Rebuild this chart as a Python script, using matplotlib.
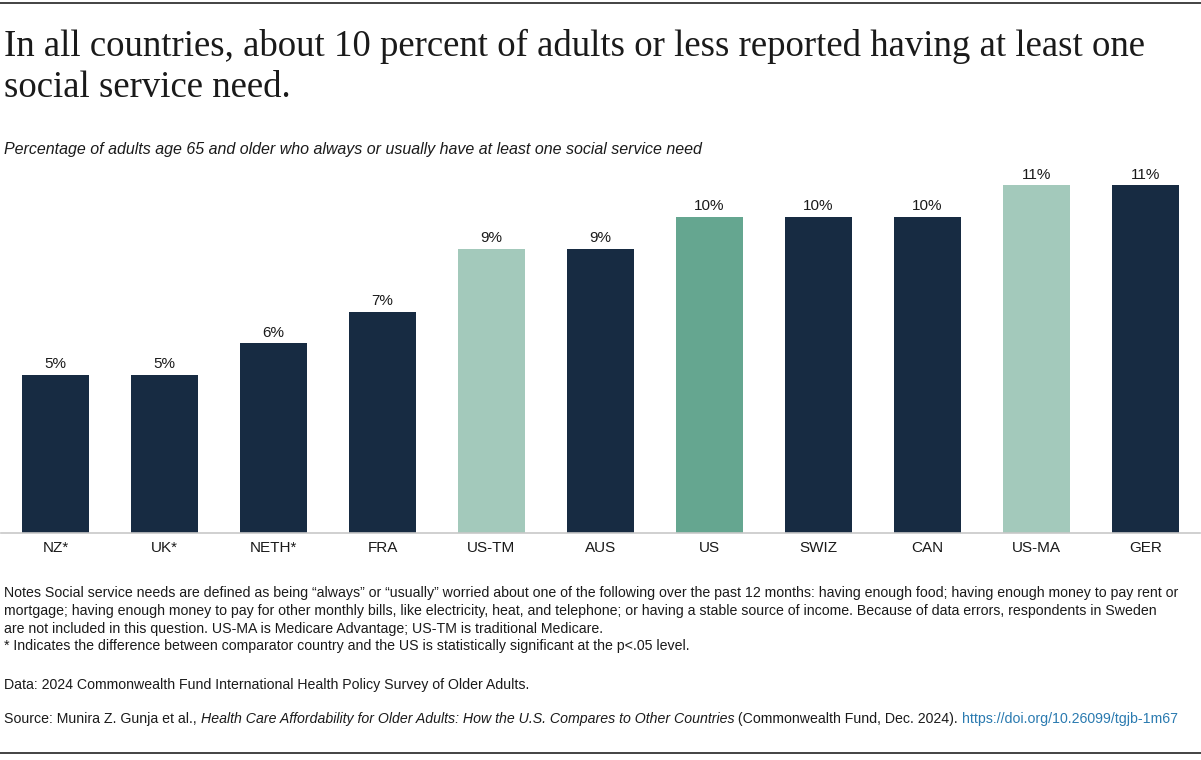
import matplotlib
matplotlib.use("Agg")
import matplotlib.pyplot as plt
from matplotlib.lines import Line2D

# data
countries = ["NZ*", "UK*", "NETH*", "FRA", "US-TM", "AUS", "US", "SWIZ", "CAN", "US-MA", "GER"]
values = [5, 5, 6, 7, 9, 9, 10, 10, 10, 11, 11]
bar_colors = ["#172b42", "#172b42", "#172b42", "#172b42", "#a3c9bb", "#172b42",
              "#65a690", "#172b42", "#172b42", "#a3c9bb", "#172b42"]

title_lines = ["In all countries, about 10 percent of adults or less reported having at least one",
               "social service need."]
subtitle = "Percentage of adults age 65 and older who always or usually have at least one social service need"
notes = [
    "Notes Social service needs are defined as being \u201calways\u201d or \u201cusually\u201d worried about one of the following over the past 12 months: having enough food; having enough money to pay rent or",
    "mortgage; having enough money to pay for other monthly bills, like electricity, heat, and telephone; or having a stable source of income. Because of data errors, respondents in Sweden",
    "are not included in this question. US-MA is Medicare Advantage; US-TM is traditional Medicare.",
    "* Indicates the difference between comparator country and the US is statistically significant at the p<.05 level.",
]
data_line = "Data: 2024 Commonwealth Fund International Health Policy Survey of Older Adults."

W, H = 1201, 760
fig = plt.figure(figsize=(W / 100, H / 100), dpi=100)
renderer = fig.canvas.get_renderer()
sans = "Liberation Sans"
txt = "#1a1a1a"


def fit_text(x, y, s, target_w, size, **kw):
    # place text, then scale font so its width matches the reference
    t = fig.text(x / W, 1 - y / H, s, fontsize=size, va="baseline", **kw)
    w = t.get_window_extent(renderer).width
    t.set_fontsize(size * target_w / w)
    return t


# rules top and bottom
fig.add_artist(Line2D([0, 1], [1 - 3 / H, 1 - 3 / H], color="#222222", lw=1.2))
fig.add_artist(Line2D([0, 1], [1 - 753 / H, 1 - 753 / H], color="#222222", lw=1.2))

t1 = fit_text(4, 56, title_lines[0], 1139, 28, family="Liberation Serif", color=txt)
fig.text(4 / W, 1 - 97 / H, title_lines[1], family="Liberation Serif",
         fontsize=t1.get_fontsize(), color=txt, va="baseline")
fit_text(4, 154, subtitle, 699, 11.5, family=sans, style="italic", color=txt)

ax = fig.add_axes([1 / W, 1 - 533 / H, 1199 / W, 379.2 / H])
x = range(len(countries))
bars = ax.bar(x, values, width=0.615, color=bar_colors)
for b, v in zip(bars, values):
    ax.text(b.get_x() + b.get_width() / 2, v + 0.12, f"{v}%", ha="center", va="bottom",
            family=sans, fontsize=11, color=txt)
ax.set_xlim(-0.5, len(countries) - 0.5)
ax.set_ylim(0, 12)
ax.set_xticks(list(x))
ax.set_xticklabels(countries, family=sans, fontsize=11, color=txt)
ax.tick_params(axis="x", length=0, pad=6)
ax.set_yticks([])
for s in ["top", "right", "left"]:
    ax.spines[s].set_visible(False)
ax.spines["bottom"].set_color("#c8c8c8")
ax.spines["bottom"].set_linewidth(1.2)

n0 = fit_text(4, 597, notes[0], 1173, 10, family=sans, color=txt)
fs = n0.get_fontsize()
for i, line in enumerate(notes[1:], start=1):
    fig.text(4 / W, 1 - (597 + i * 17.8) / H, line, family=sans, fontsize=fs, color=txt,
             va="baseline")
fig.text(4 / W, 1 - 689 / H, data_line, family=sans, fontsize=fs, color=txt, va="baseline")

# source line in pieces (regular, italic, regular, link)
pieces = [
    ("Source: Munira Z. Gunja et al., ", "normal", txt),
    ("Health Care Affordability for Older Adults: How the U.S. Compares to Other Countries", "italic", txt),
    (" (Commonwealth Fund, Dec. 2024). ", "normal", txt),
    ("https://doi.org/10.26099/tgjb-1m67", "normal", "#2a7ab0"),
]
xpos = 4
for s, st, c in pieces:
    t = fig.text(xpos / W, 1 - 723 / H, s, family=sans, style=st, fontsize=fs, color=c,
                 va="baseline")
    xpos += t.get_window_extent(renderer).width

fig.savefig("out.png", dpi=100)
